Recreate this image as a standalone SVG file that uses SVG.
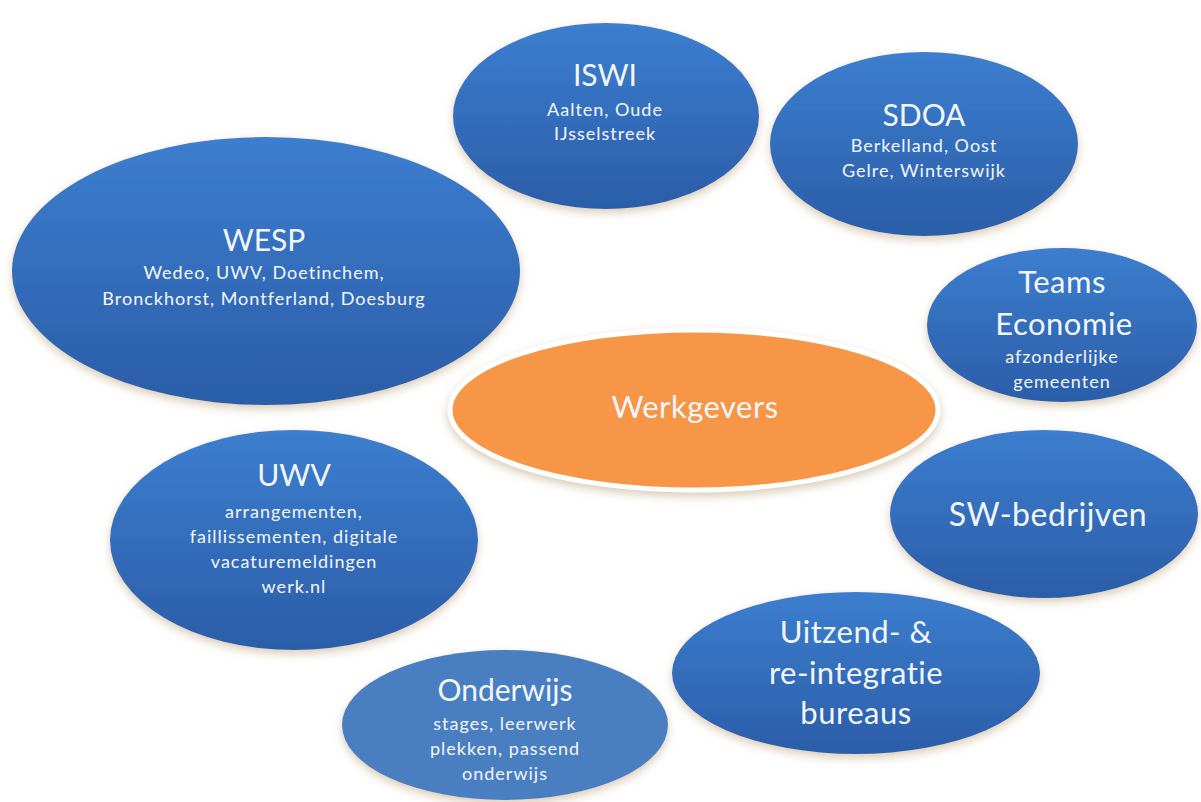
<svg xmlns="http://www.w3.org/2000/svg" width="1201" height="802" viewBox="0 0 1201 802">
  <defs>
    <linearGradient id="blueFill" x1="0" y1="0" x2="0" y2="1">
      <stop offset="0" stop-color="#3c7ecf"/>
      <stop offset="1" stop-color="#2b5da8"/>
    </linearGradient>
    <filter id="softShadow" x="-20%" y="-20%" width="140%" height="150%">
      <feGaussianBlur in="SourceAlpha" stdDeviation="5" result="b"/>
      <feOffset dx="0" dy="4" in="b" result="o"/>
      <feFlood flood-color="#b9a27a" flood-opacity="0.55"/>
      <feComposite in2="o" operator="in" result="s"/>
      <feMerge><feMergeNode in="s"/><feMergeNode in="SourceGraphic"/></feMerge>
    </filter>
  </defs>
  <style>
    .bubble { fill: url(#blueFill); filter: url(#softShadow); }
    .flat { fill: #4a7fc1; filter: url(#softShadow); }
    .core { fill: #f79646; stroke: #ffffff; stroke-width: 5; filter: url(#softShadow); }
    text { font-family: Lato, "Open Sans", "Liberation Sans", sans-serif; fill: #f2f6fc; text-anchor: middle; }
    .title { font-size: 30px; }
    .sub { font-size: 18px; letter-spacing: 1px; }
    .big { font-size: 31px; letter-spacing: 0.5px; }
  </style>
  <rect width="1201" height="802" fill="#ffffff"/>

  <!-- no connectors in this chart -->
  <g id="connectors"/>

  <g id="node-iswi">
    <ellipse class="bubble" cx="606" cy="116" rx="153" ry="93"/>
    <text class="title" x="605" y="86">ISWI</text>
    <text class="sub" x="605" y="116">Aalten, Oude</text>
    <text class="sub" x="605" y="140">IJsselstreek</text>
  </g>

  <g id="node-sdoa">
    <ellipse class="bubble" cx="924" cy="144" rx="154" ry="92"/>
    <text class="title" x="924" y="126">SDOA</text>
    <text class="sub" x="924" y="152">Berkelland, Oost</text>
    <text class="sub" x="924" y="177">Gelre, Winterswijk</text>
  </g>

  <g id="node-wesp">
    <ellipse class="bubble" cx="266" cy="271" rx="254" ry="134"/>
    <text class="title" x="264" y="251">WESP</text>
    <text class="sub" x="264" y="279">Wedeo, UWV, Doetinchem,</text>
    <text class="sub" x="264" y="305">Bronckhorst, Montferland, Doesburg</text>
  </g>

  <g id="node-teams">
    <ellipse class="bubble" cx="1062" cy="325" rx="135" ry="77"/>
    <text class="big" x="1062" y="293">Teams</text>
    <text class="big" x="1064" y="335">Economie</text>
    <text class="sub" x="1062" y="363">afzonderlijke</text>
    <text class="sub" x="1062" y="388">gemeenten</text>
  </g>

  <g id="node-werkgevers">
    <ellipse class="core" cx="694" cy="410" rx="244" ry="80"/>
    <text class="big" x="695" y="418">Werkgevers</text>
  </g>

  <g id="node-sw">
    <ellipse class="bubble" cx="1044" cy="514" rx="154" ry="84"/>
    <text class="big" x="1048" y="526" style="font-size:32px">SW-bedrijven</text>
  </g>

  <g id="node-uwv">
    <ellipse class="bubble" cx="294" cy="540" rx="184" ry="110"/>
    <text class="title" x="294" y="486">UWV</text>
    <text class="sub" x="294" y="518">arrangementen,</text>
    <text class="sub" x="294" y="543">faillissementen, digitale</text>
    <text class="sub" x="294" y="568">vacaturemeldingen</text>
    <text class="sub" x="294" y="593">werk.nl</text>
  </g>

  <g id="node-uitzend">
    <ellipse class="bubble" cx="856" cy="673" rx="184" ry="81"/>
    <text class="big" x="856" y="643">Uitzend- &amp;</text>
    <text class="big" x="856" y="684">re-integratie</text>
    <text class="big" x="856" y="724">bureaus</text>
  </g>

  <g id="node-onderwijs">
    <ellipse class="flat" cx="505" cy="725" rx="163" ry="75"/>
    <text class="title" x="505" y="701">Onderwijs</text>
    <text class="sub" x="505" y="730">stages, leerwerk</text>
    <text class="sub" x="505" y="755">plekken, passend</text>
    <text class="sub" x="505" y="780">onderwijs</text>
  </g>
</svg>
